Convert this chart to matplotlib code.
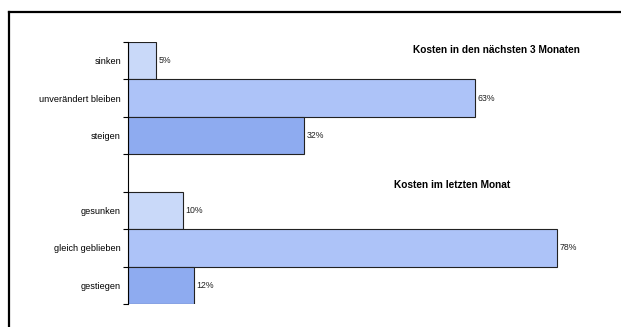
import matplotlib.pyplot as plt
from matplotlib.lines import Line2D

plt.rcParams["font.family"] = ["Liberation Sans", "DejaVu Sans"]

# upper group: expected costs, lower group: last month
labels_next = ["sinken", "unverändert bleiben", "steigen"]
values_next = [5, 63, 32]
labels_last = ["gesunken", "gleich geblieben", "gestiegen"]
values_last = [10, 78, 12]
colors = ["#c9d9f9", "#adc3f8", "#8eabf0"]

title_next = "Kosten in den nächsten 3 Monaten"
title_last = "Kosten im letzten Monat"

fig = plt.figure(figsize=(6.21, 3.27), dpi=100)
ax = fig.add_axes([128 / 621, 1 - 304 / 327, 467.5 / 621, 262 / 327])

pos_next = [0, 1, 2]
pos_last = [4, 5, 6]
for pos, vals in [(pos_next, values_next), (pos_last, values_last)]:
    ax.barh(pos, vals, height=1.0, color=colors, edgecolor="#222222",
            linewidth=0.8, zorder=2)
    for p, v in zip(pos, vals):
        ax.text(v + 0.5, p, f"{v}%", va="center", ha="left", fontsize=6.3,
                color="#222222")

ax.set_xlim(0, 85)
ax.set_ylim(6.5, -0.5)
ax.set_yticks(pos_next + pos_last)
ax.set_yticklabels(labels_next + labels_last, fontsize=6.6)
ax.tick_params(axis="y", which="major", length=0, pad=5)
ax.set_yticks([-0.5, 0.5, 1.5, 2.5, 3.5, 4.5, 5.5, 6.5], minor=True)
ax.tick_params(axis="y", which="minor", length=3.5, width=0.8)
ax.set_xticks([])
for s in ["top", "right", "bottom"]:
    ax.spines[s].set_visible(False)
ax.spines["left"].set_linewidth(0.8)

fig.text(496.5 / 621, 1 - 50 / 327, title_next, ha="center", va="center",
         fontsize=7.3, fontweight="bold")
fig.text(452.5 / 621, 1 - 185 / 327, title_last, ha="center", va="center",
         fontsize=7.3, fontweight="bold")

# frame around the chart (cut off at right and bottom)
fig.add_artist(Line2D([8.5 / 621, 1], [1 - 12 / 327, 1 - 12 / 327],
                      transform=fig.transFigure, color="black", linewidth=1.6))
fig.add_artist(Line2D([8.5 / 621, 8.5 / 621], [0, 1 - 12 / 327],
                      transform=fig.transFigure, color="black", linewidth=1.6))

fig.savefig("out.png", dpi=100)
